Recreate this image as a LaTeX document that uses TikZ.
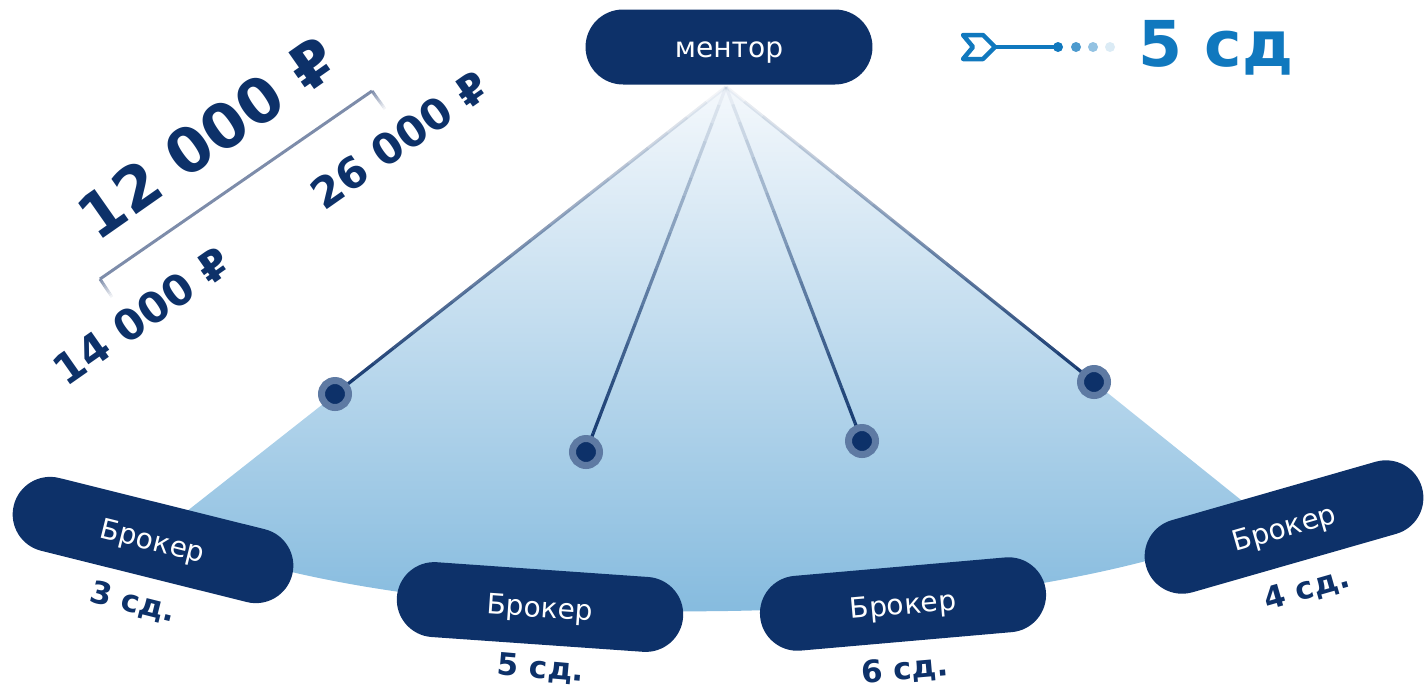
\documentclass[tikz,border=0pt]{standalone}
\usepackage{fontspec}
\setmainfont{DejaVu Sans}
\usetikzlibrary{shapes.misc,calc,backgrounds}
\definecolor{navy}{RGB}{13,49,105}
\definecolor{ringblue}{RGB}{94,122,163}
\definecolor{arrowblue}{RGB}{16,120,190}
\definecolor{fantop}{RGB}{244,248,252}
\definecolor{fanbottom}{RGB}{128,184,221}
\definecolor{bracketgray}{RGB}{125,140,170}

\begin{document}
\begin{tikzpicture}[x=0.02cm,y=-0.02cm]
    \tikzstyle{every node} = [font=\fontsize{16}{19}\selectfont]
    \tikzstyle{pill} = [rounded rectangle, fill=navy, text=white, minimum width=5.74cm, minimum height=1.5cm, inner sep=0pt, text depth=0pt]
    \tikzstyle{dot} = [circle, fill=navy, draw=ringblue, line width=0.14cm, minimum size=0.54cm, inner sep=0pt]
    \tikzstyle{days} = [text=navy, font=\bfseries\fontsize{17.5}{20}\selectfont]
    \tikzstyle{price} = [text=navy, font=\bfseries\fontsize{24}{28}\selectfont, rotate=35]
    \useasboundingbox (0,0) rectangle (1425,691);
    % place nodes
    \node[pill,text height=11.5pt](mentor) at (729,47){ментор};
    \coordinate (apex) at ($(mentor.south)+(-3,2)$);
    \node[dot](dotA) at (335,394){};
    \node[dot](dotB) at (586,452){};
    \node[dot](dotC) at (862,441){};
    \node[dot](dotD) at (1094,382){};
    \node[pill,rotate=-14](brokerThree) at (153,540){Брокер};
    \node[pill,rotate=-4](brokerFive) at (540,607){Брокер};
    \node[pill,rotate=5](brokerSix) at (903,604){Брокер};
    \node[pill,rotate=16](brokerFour) at (1284,527){Брокер};
    \node[days,rotate=-14](daysThree) at (133,603){3 сд.};
    \node[days,rotate=-5](daysFive) at (541,669){5 сд.};
    \node[days,rotate=5](daysSix) at (905,670){6 сд.};
    \node[days,rotate=16](daysFour) at (1307,590){4 сд.};
    % Connections
    \begin{scope}[on background layer]
      \shade[top color=fantop, bottom color=fanbottom]
      (apex)--(163,530) .. controls (400,640) and (1000,640) .. (1266,520)--cycle;
      \foreach \dotname in {dotA,dotB,dotC,dotD}{
        \foreach \k in {1,...,20}{
          \pgfmathsetmacro{\fa}{(\k-1)/20}
          \pgfmathsetmacro{\fb}{\k/20}
          \pgfmathsetmacro{\op}{0.05+0.95*\fa}
          \draw[navy, line width=0.065cm, draw opacity=\op]
          ($(apex)!\fa!(\dotname.center)$)--($(apex)!\fb!(\dotname.center)$);
        }
      }
    \end{scope}
    % prices
    \node[price,font=\bfseries\fontsize{35}{40}\selectfont](priceMain) at (207,138){12 000 ₽};
    \node[price](priceHigh) at (400,140){26 000 ₽};
    \node[price](priceLow) at (142,316){14 000 ₽};
    \draw[bracketgray, line width=0.06cm] (100,279)--(372,91);
    \foreach \k in {1,...,10}{
      \pgfmathsetmacro{\fa}{(\k-1)/10}
      \pgfmathsetmacro{\fb}{\k/10}
      \pgfmathsetmacro{\op}{1-\fa}
      \draw[bracketgray, line width=0.06cm, draw opacity=\op] ($(100,279)!\fa!(112,297)$)--($(100,279)!\fb!(112,297)$);
      \draw[bracketgray, line width=0.06cm, draw opacity=\op] ($(372,91)!\fa!(385,109)$)--($(372,91)!\fb!(385,109)$);
    }
    % top right
    \node[anchor=base, text=arrowblue, font=\bfseries\fontsize{36}{42}\selectfont](daysTotal) at (1216,66){5 сд};
    \draw[arrowblue, line width=0.09cm, line join=round]
    (963,35)--(983,35)--(995,47)--(983,59)--(963,59)--(973,47)--cycle;
    \draw[arrowblue, line width=0.07cm] (995,47)--(1058,47);
    \fill[arrowblue] (1058,47) circle (5);
    \fill[arrowblue, opacity=0.75] (1076,47) circle (5);
    \fill[arrowblue, opacity=0.45] (1093,47) circle (5);
    \fill[arrowblue, opacity=0.15] (1110,47) circle (5);
\end{tikzpicture}
\end{document}
